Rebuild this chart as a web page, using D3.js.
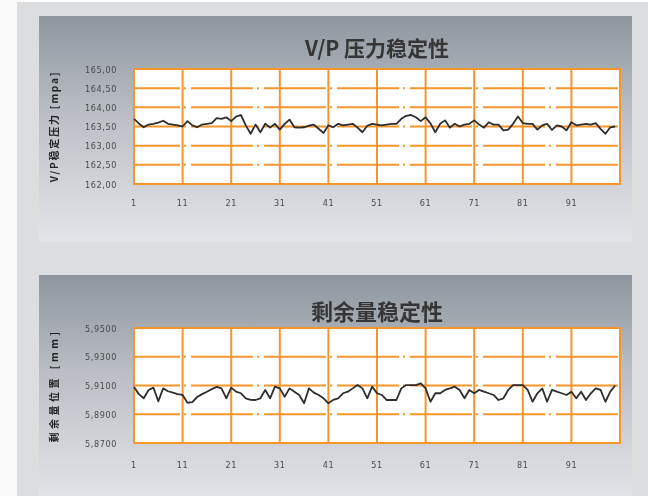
<!DOCTYPE html>
<html>
<head>
<meta charset="utf-8">
<script src="https://cdn.jsdelivr.net/npm/d3@7"></script>
<style>
  html, body { margin: 0; padding: 0; background: #fafafa; }
</style>
</head>
<body>
<div class="charts"></div>
<script>
const width = 648
const height = 496

// x categories are sample numbers 1..100
const xTicks = [1, 11, 21, 31, 41, 51, 61, 71, 81, 91]

const pressureTicks = [162.0, 162.5, 163.0, 163.5, 164.0, 164.5, 165.0]
const pressure = [
  163.70, 163.58, 163.48, 163.55, 163.57, 163.60, 163.65, 163.57, 163.55, 163.53,
  163.50, 163.64, 163.53, 163.48, 163.55, 163.57, 163.59, 163.72, 163.70, 163.74,
  163.64, 163.76, 163.80, 163.53, 163.31, 163.55, 163.35, 163.57, 163.47, 163.57,
  163.42, 163.57, 163.68, 163.48, 163.47, 163.48, 163.52, 163.55, 163.44, 163.33,
  163.53, 163.48, 163.57, 163.53, 163.55, 163.57, 163.47, 163.35, 163.52, 163.57,
  163.55, 163.53, 163.55, 163.57, 163.57, 163.70, 163.78, 163.80, 163.74, 163.64,
  163.74, 163.58, 163.35, 163.57, 163.66, 163.47, 163.57, 163.50, 163.55, 163.57,
  163.66, 163.55, 163.47, 163.61, 163.55, 163.55, 163.40, 163.42, 163.57, 163.76,
  163.59, 163.57, 163.57, 163.42, 163.53, 163.57, 163.41, 163.53, 163.50, 163.40,
  163.61, 163.53, 163.55, 163.57, 163.55, 163.59, 163.44, 163.31, 163.48, 163.50
]

const remainTicks = [5.87, 5.89, 5.91, 5.93, 5.95]
const remain = [
  5.9090, 5.9040, 5.9011, 5.9069, 5.9085, 5.8990, 5.9080, 5.9060, 5.9050, 5.9040,
  5.9034, 5.8980, 5.8985, 5.9020, 5.9040, 5.9057, 5.9075, 5.9090, 5.9080, 5.9011,
  5.9085, 5.9057, 5.9046, 5.9011, 5.9000, 5.8999, 5.9011, 5.9069, 5.9011, 5.9092,
  5.9080, 5.9022, 5.9080, 5.9057, 5.9034, 5.8976, 5.9080, 5.9050, 5.9034, 5.9011,
  5.8976, 5.9000, 5.9011, 5.9046, 5.9057, 5.9080, 5.9103, 5.9080, 5.9011, 5.9092,
  5.9046, 5.9034, 5.8999, 5.8999, 5.8999, 5.9080, 5.9103, 5.9103, 5.9103, 5.9115,
  5.9080, 5.8987, 5.9046, 5.9046, 5.9069, 5.9080, 5.9092, 5.9069, 5.9011, 5.9069,
  5.9046, 5.9069, 5.9057, 5.9046, 5.9034, 5.8999, 5.9011, 5.9069, 5.9103, 5.9103,
  5.9103, 5.9069, 5.8987, 5.9046, 5.9080, 5.8987, 5.9069, 5.9057, 5.9046, 5.9034,
  5.9057, 5.9011, 5.9057, 5.8999, 5.9046, 5.9080, 5.9069, 5.8987, 5.9057, 5.9100
]

const orange = "#f5952c"
const labelFont = "'DejaVu Sans Condensed', 'DejaVu Sans', sans-serif"
const cjkFont = "'Noto Sans CJK SC', 'Noto Sans', sans-serif"

const svg = d3.create("svg")
  .attr("width", width)
  .attr("height", height)
  .attr("viewBox", [0, 0, width, height])

const defs = svg.append("defs")
const grad = defs.append("linearGradient")
  .attr("id", "panelGrad")
  .attr("x1", 0).attr("y1", 0).attr("x2", 0).attr("y2", 1)
grad.append("stop").attr("offset", "0%").attr("stop-color", "#8f969e")
grad.append("stop").attr("offset", "45%").attr("stop-color", "#bcc0c6")
grad.append("stop").attr("offset", "100%").attr("stop-color", "#e3e4e8")

defs.append("filter").attr("id", "soft")
  .append("feGaussianBlur").attr("stdDeviation", 0.45)

// page frame
svg.append("rect")
  .attr("width", width).attr("height", height)
  .attr("fill", "#fafafa")
svg.append("rect")
  .attr("x", 17).attr("y", 2)
  .attr("width", width - 17).attr("height", height - 2)
  .attr("fill", "#dcdddf")

function drawPanel(top, opts) {
  const g = svg.append("g").attr("filter", "url(#soft)")

  g.append("rect")
    .attr("x", 39).attr("y", top)
    .attr("width", 593).attr("height", 226)
    .attr("fill", "url(#panelGrad)")

  const x = d3.scaleLinear()
    .domain([1, 101])
    .range([134, 620])

  const y = d3.scaleLinear()
    .domain(opts.domain)
    .range([top + 168, top + 53])

  const [x0, x1] = x.range()
  const [yb, yt] = y.range()

  g.append("rect")
    .attr("x", x0).attr("y", yt)
    .attr("width", x1 - x0).attr("height", yb - yt)
    .attr("fill", "white")

  // horizontal grid (dash-dot)
  g.append("g")
    .selectAll("line")
    .data(opts.ticks.slice(1, -1))
    .join("line")
    .attr("x1", x0).attr("x2", x1)
    .attr("y1", d => y(d)).attr("y2", d => y(d))
    .attr("stroke", orange)
    .attr("stroke-width", 2)
    .attr("stroke-dasharray", "62,4,2,5")
    .attr("stroke-dashoffset", 16)

  // vertical grid
  g.append("g")
    .selectAll("line")
    .data(xTicks.slice(1))
    .join("line")
    .attr("x1", d => x(d)).attr("x2", d => x(d))
    .attr("y1", yt).attr("y2", yb)
    .attr("stroke", orange)
    .attr("stroke-width", 2)

  g.append("rect")
    .attr("x", x0).attr("y", yt)
    .attr("width", x1 - x0).attr("height", yb - yt)
    .attr("fill", "none")
    .attr("stroke", orange)
    .attr("stroke-width", 2)

  const line = d3.line()
    .x((d, i) => x(i + 1))
    .y(d => y(d))

  g.append("path")
    .datum(opts.values)
    .attr("d", line)
    .attr("fill", "none")
    .attr("stroke", "#2e2e2e")
    .attr("stroke-width", 1.8)
    .attr("stroke-linejoin", "round")

  // y tick labels
  g.append("g")
    .selectAll("text")
    .data(opts.ticks)
    .join("text")
    .attr("x", 117)
    .attr("y", d => y(d) + 3.5)
    .attr("text-anchor", "end")
    .style("font", `9px ${labelFont}`)
    .style("letter-spacing", "0.6px")
    .attr("fill", "#4a4a4a")
    .text(d => opts.format(d).replace(".", ","))

  // x tick labels
  g.append("g")
    .selectAll("text")
    .data(xTicks)
    .join("text")
    .attr("x", d => x(d))
    .attr("y", yb + opts.xLabelDy)
    .attr("text-anchor", "middle")
    .style("font", `9px ${labelFont}`)
    .style("letter-spacing", "0.6px")
    .attr("fill", "#4a4a4a")
    .text(d => d)

  g.append("text")
    .attr("x", (x0 + x1) / 2)
    .attr("y", top + opts.titleDy)
    .attr("text-anchor", "middle")
    .style("font", `bold ${opts.titleSize}px ${cjkFont}`)
    .attr("fill", "#363636")
    .text(opts.title)

  g.append("text")
    .attr("transform", `translate(58, ${(yt + yb) / 2}) rotate(-90)`)
    .attr("text-anchor", "middle")
    .style("font", `bold 10px ${cjkFont}`)
    .style("letter-spacing", opts.axisSpacing)
    .attr("fill", "#222")
    .text(opts.axisTitle)
}

drawPanel(16, {
  domain: [162, 165],
  ticks: pressureTicks,
  values: pressure,
  format: d3.format(".2f"),
  title: "V/P 压力稳定性",
  titleSize: 21,
  titleDy: 40,
  xLabelDy: 22,
  axisTitle: "V/P稳定压力 [mpa]",
  axisSpacing: "1.8px"
})

drawPanel(275, {
  domain: [5.87, 5.95],
  ticks: remainTicks,
  values: remain,
  format: d3.format(".4f"),
  title: "剩余量稳定性",
  titleSize: 22,
  titleDy: 45,
  xLabelDy: 25,
  axisTitle: "剩余量位置 [mm]",
  axisSpacing: "3.5px"
})

document.querySelector(".charts").append(svg.node())
</script>
</body>
</html>
